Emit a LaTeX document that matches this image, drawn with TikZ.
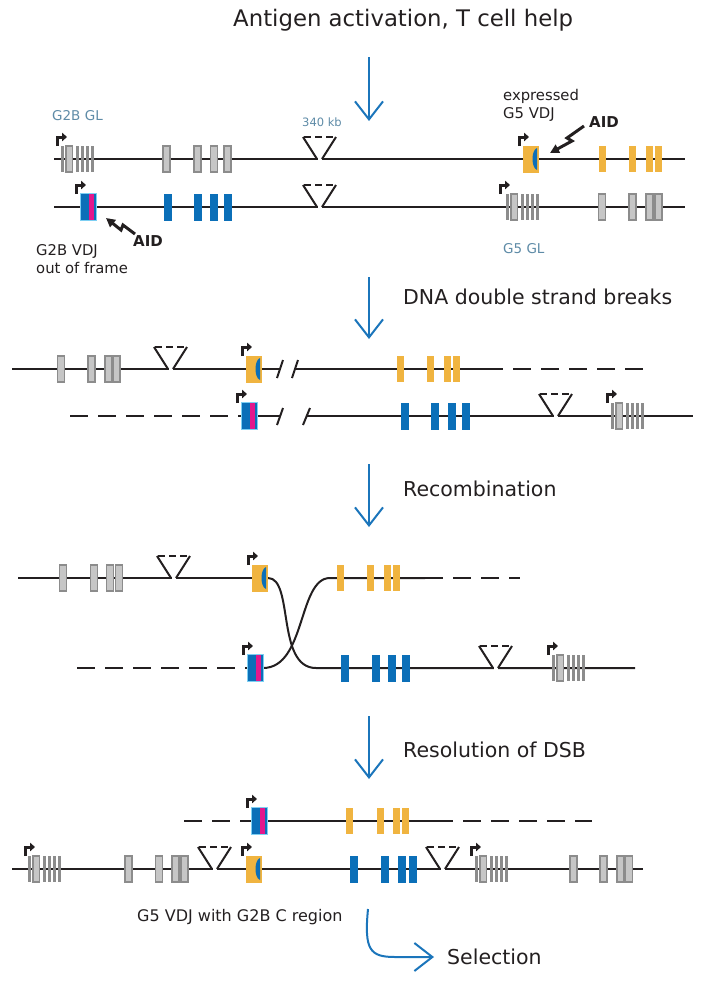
\documentclass[tikz,border=0pt]{standalone}
\usepackage{fontspec}
\setmainfont{DejaVu Sans}
\usetikzlibrary{arrows.meta}

\definecolor{dnaline}{HTML}{231F20}
\definecolor{exblue}{HTML}{0B6FB8}
\definecolor{exorange}{HTML}{F0B440}
\definecolor{stripmag}{HTML}{E2178C}
\definecolor{vdjedge}{HTML}{7DCFF3}
\definecolor{exgreyline}{HTML}{8C8C8C}
\definecolor{exgreyfill}{HTML}{C6C6C6}
\definecolor{flowblue}{HTML}{1B75BB}
\definecolor{glgrey}{HTML}{5E8BA7}

\begin{document}
\begin{tikzpicture}[x=1pt,y=-1pt,
  dna/.style={draw=dnaline,line width=2pt},
  loose/.style={dna,dash pattern=on 18pt off 10pt},
  gex/.style={draw=exgreyline,fill=exgreyfill,line width=1.6pt},
  gbar/.style={draw=exgreyline,line width=2.8pt},
  bex/.style={fill=exblue},
  oex/.style={fill=exorange},
  prom/.style={draw=dnaline,line width=3pt,-{Triangle[length=5pt,width=8.5pt]}},
  bolt/.style={draw=dnaline,line width=3pt,line join=miter,-{Triangle[length=9pt,width=9pt]}},
  flow/.style={draw=flowblue,line width=2pt,-{Straight Barb[length=18pt,width=28pt]}},
  steplbl/.style={font=\fontsize{20.5}{24}\selectfont,text=dnaline,anchor=west,inner sep=0},
  gllbl/.style={font=\fontsize{13.5}{16}\selectfont,text=glgrey,anchor=west,inner sep=0},
  notelbl/.style={font=\fontsize{14.8}{18}\selectfont,text=dnaline,anchor=west,align=left,inner sep=0},
  aidlbl/.style={font=\bfseries\fontsize{15}{18}\selectfont,text=dnaline,inner sep=0}]

\useasboundingbox (0,0) rectangle (707,983);

\newcommand\GEX[2]{\draw[gex] (#1-3.5,#2-13) rectangle (#1+3.5,#2+13);}
\newcommand\BEX[2]{\fill[bex] (#1-4,#2-13.5) rectangle (#1+4,#2+13.5);}
\newcommand\OEX[2]{\fill[oex] (#1-3.5,#2-13) rectangle (#1+3.5,#2+13);}
\newcommand\PROM[2]{\draw[prom] (#1,#2-13) -- (#1,#2-22) -- (#1+10,#2-22);}

\newcommand\GLSET[2]{%% germline V cluster, #1 = left edge
  \draw[gbar] (#1+1.5,#2-13) -- (#1+1.5,#2+13);
  \draw[gex] (#1+5,#2-13) rectangle (#1+11.5,#2+13);
  \foreach \k in {16.5,21.5,26.5,31.5} \draw[gbar] (#1+\k,#2-13) -- (#1+\k,#2+13);
}

\newcommand\VDJIN[2]{%% expressed VDJ
  \fill[oex] (#1,#2-13.5) rectangle (#1+16,#2+13.5);
  \fill[bex] (#1+14,#2-11) .. controls (#1+8,#2-9) and (#1+8,#2+9) .. (#1+14,#2+11) -- cycle;
}

\newcommand\VDJOUT[2]{%% out of frame VDJ
  \fill[bex] (#1,#2-13.5) rectangle (#1+16,#2+13.5);
  \fill[stripmag] (#1+9,#2-13.5) rectangle (#1+14,#2+13.5);
  \draw[vdjedge,line width=0.8pt] (#1,#2-13.5) rectangle (#1+16,#2+13.5);
}

\newcommand\DELN[2]{%% 340 kb deletion
  \fill[white] (#1+14.5,#2-1.5) rectangle (#1+18.5,#2+1.5);
  \draw[dna] (#1,#2-22) -- (#1+14,#2) (#1+19,#2) -- (#1+33,#2-22);
  \draw[dna,line width=1.6pt,dash pattern=on 7pt off 4pt] (#1+1,#2-22) -- (#1+32,#2-22);
}

\node[font=\fontsize{22.8}{26}\selectfont,text=dnaline,anchor=west,inner sep=0] (title) at (233,20) {Antigen activation, T cell help};

\coordinate (f1s) at (369,57);  \coordinate (f1e) at (369,121);
\coordinate (f2s) at (369,277); \coordinate (f2e) at (369,339);
\coordinate (f3s) at (369,464); \coordinate (f3e) at (369,527);
\coordinate (f4s) at (369,716); \coordinate (f4e) at (369,779);
\draw[flow] (f1s) -- (f1e);
\draw[flow] (f2s) -- (f2e);
\draw[flow] (f3s) -- (f3e);
\draw[flow] (f4s) -- (f4e);

%% germline and rearranged loci
\node[gllbl] (g2bgl) at (52,116) {G2B GL};
\node[gllbl,font=\fontsize{11.5}{14}\selectfont] (kb) at (302,122) {340 kb};
\node[notelbl] (expr) at (503,105) {expressed\\G5 VDJ};

\draw[dna] (54,159) -- (685,159);
\PROM{57}{159}
\GLSET{61}{159}
\foreach \gx in {166.5,197.5,214,227.5} {\GEX{\gx}{159}}
\DELN{303}{159}
\PROM{519}{159}
\VDJIN{523}{159}
\foreach \ox in {602,632.5,649.5,658.5} {\OEX{\ox}{159}}
\draw[bolt] (584,126) -- (567,138) -- (572,141) -- (550,153);
\node[aidlbl] (aid1) at (604,122) {AID};

\draw[dna] (54,207) -- (685,207);
\PROM{76}{207}
\VDJOUT{80}{207}
\foreach \bx in {167.5,197.5,214,227.5} {\BEX{\bx}{207}}
\DELN{303}{207}
\PROM{500}{207}
\GLSET{506}{207}
\foreach \gx in {602,632.5,649.5,658.5} {\GEX{\gx}{207}}
\draw[bolt] (135,234) -- (123,225) -- (121,230) -- (106,218);
\node[aidlbl] (aid2) at (148,241) {AID};

\node[notelbl] (outf) at (36,259) {G2B VDJ\\out of frame};
\node[gllbl] (g5gl) at (503,249) {G5 GL};

%% breaks
\node[steplbl] (dsb) at (403,297) {DNA double strand breaks};

\draw[dna] (12,369) -- (280,369);
\draw[dna] (295,369) -- (485,369);
\draw[loose] (485,369) -- (643,369);
\foreach \gx in {61,91.5,108.5,116.5} {\GEX{\gx}{369}}
\DELN{154}{369}
\PROM{242}{369}
\VDJIN{246}{369}
\draw[dna] (277,378) -- (283,360);
\draw[dna] (292,378) -- (298,360);
\foreach \ox in {400,430.5,447.5,456} {\OEX{\ox}{369}}

\draw[loose] (70,416) -- (241,416);
\draw[dna] (257,416) -- (280,416);
\draw[dna] (307,416) -- (693,416);
\PROM{237}{416}
\VDJOUT{241}{416}
\draw[dna] (277,425) -- (283,408);
\draw[dna] (303,425) -- (310,408);
\foreach \bx in {404.5,435,452,466} {\BEX{\bx}{416}}
\DELN{539}{416}
\PROM{607}{416}
\GLSET{611}{416}

%% recombination
\node[steplbl] (rec) at (403,489) {Recombination};

\draw[dna] (18,578) -- (268,578);
\foreach \gx in {63,94,110,119} {\GEX{\gx}{578}}
\DELN{157}{578}
\draw[dna] (268,578) .. controls (294,578) and (276,668) .. (316,668) -- (635,668);
\draw[dna] (263,668) .. controls (306,668) and (298,578) .. (330,578) -- (425,578);
\draw[loose] (425,578) -- (520,578);
\PROM{248}{578}
\VDJIN{252}{578}
\foreach \ox in {340,370.5,387.5,396} {\OEX{\ox}{578}}

\draw[loose] (77,668) -- (247,668);
\PROM{243}{668}
\VDJOUT{247}{668}
\foreach \bx in {345,376,392,406} {\BEX{\bx}{668}}
\DELN{479}{668}
\PROM{548}{668}
\GLSET{552}{668}

%% resolution
\node[steplbl] (res) at (403,750) {Resolution of DSB};

\draw[loose] (184,821) -- (251,821);
\draw[dna] (267,821) -- (435,821);
\draw[loose] (435,821) -- (592,821);
\PROM{247}{821}
\VDJOUT{251}{821}
\foreach \ox in {349,380,396.5,405.5} {\OEX{\ox}{821}}

\draw[dna] (12,869) -- (643,869);
\PROM{25}{869}
\GLSET{28}{869}
\foreach \gx in {128.5,159,175.5,184.5} {\GEX{\gx}{869}}
\DELN{198}{869}
\PROM{242}{869}
\VDJIN{246}{869}
\foreach \bx in {354,385,401.5,413} {\BEX{\bx}{869}}
\DELN{426}{869}
\PROM{471}{869}
\GLSET{475}{869}
\foreach \gx in {573.5,603.5,620.5,629} {\GEX{\gx}{869}}

\node[notelbl,font=\fontsize{16}{19}\selectfont] (hybrid) at (137,917) {G5 VDJ with G2B C region};

\coordinate (sels) at (368,909);
\node[steplbl] (sel) at (447,957) {Selection};
\draw[flow] (sels) .. controls (364,950) and (370,957) .. (395,957) -- ([xshift=-13pt]sel.west);

\end{tikzpicture}
\end{document}
